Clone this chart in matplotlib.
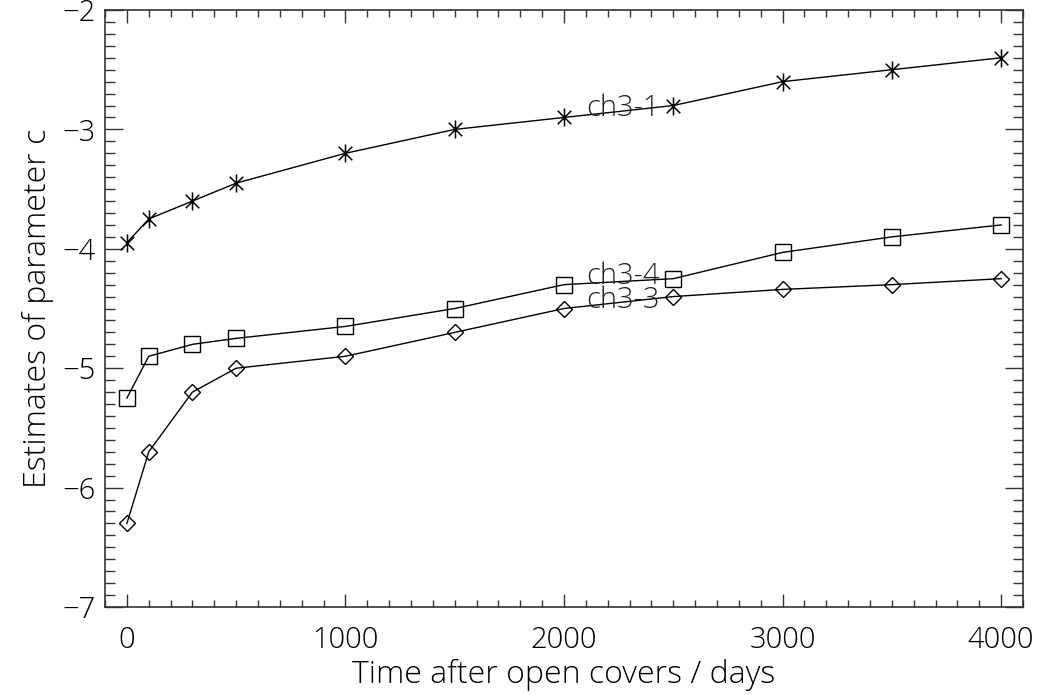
import numpy as np
import matplotlib
matplotlib.use('Agg')
import matplotlib.pyplot as plt
from matplotlib.path import Path
from matplotlib.ticker import MultipleLocator
from matplotlib import font_manager

# days after the covers were opened
days = [0, 100, 300, 500, 1000, 1500, 2000, 2500, 3000, 3500, 4000]

# estimates of parameter c per channel
ch3_1 = [-3.95, -3.75, -3.60, -3.45, -3.20, -3.00, -2.90, -2.80, -2.60, -2.50, -2.40]
ch3_4 = [-5.25, -4.90, -4.80, -4.75, -4.65, -4.50, -4.30, -4.25, -4.03, -3.90, -3.80]
ch3_3 = [-6.30, -5.70, -5.20, -5.00, -4.90, -4.70, -4.50, -4.40, -4.34, -4.30, -4.25]

label_names = ['ch3-1', 'ch3-4', 'ch3-3']
label_x = [2100, 2100, 2100]
label_y = [-2.82, -4.23, -4.43]


def pick_font():
    # thin font looks closer to the IDL vector font
    for fam in ['Open Sans', 'Lato', 'Roboto', 'Noto Sans']:
        try:
            fp = font_manager.FontProperties(family=fam, weight='light')
            path = font_manager.findfont(fp, fallback_to_default=False)
            if 'light' in path.lower():
                return fam, 'light'
        except Exception:
            pass
    return 'DejaVu Sans', 'normal'


fam, weight = pick_font()
plt.rcParams['font.family'] = [fam, 'DejaVu Sans']
plt.rcParams['font.weight'] = weight
plt.rcParams['axes.labelweight'] = weight
plt.rcParams['font.size'] = 21

# IDL style asterisk: vertical stroke plus two diagonals
a = 0.75
asterisk = Path([(0, -1), (0, 1), (-a, -a), (a, a), (-a, a), (a, -a)],
                [Path.MOVETO, Path.LINETO, Path.MOVETO, Path.LINETO, Path.MOVETO, Path.LINETO])

fig = plt.figure(figsize=(10.42, 6.95), dpi=100)
ax = fig.add_axes([0.1008, 0.1266, 0.8810, 0.8590])

ax.plot(days, ch3_1, color='black', lw=1.0, marker=asterisk, ms=13,
        mew=1.1, mfc='none', mec='black')
ax.plot(days, ch3_4, color='black', lw=1.0, marker='s', ms=12,
        mew=1.0, mfc='none', mec='black')
ax.plot(days, ch3_3, color='black', lw=1.0, marker='D', ms=8.5,
        mew=1.0, mfc='none', mec='black')

for name, x, y in zip(label_names, label_x, label_y):
    ax.text(x, y, name, ha='left', va='center', fontsize=21, color='#222222',
            fontweight=weight)

ax.set_xlim(-100, 4100)
ax.set_ylim(-7, -2)
ax.xaxis.set_major_locator(MultipleLocator(1000))
ax.xaxis.set_minor_locator(MultipleLocator(100))
ax.yaxis.set_major_locator(MultipleLocator(1))
ax.yaxis.set_minor_locator(MultipleLocator(0.1))

ax.tick_params(which='both', direction='in', top=True, right=True, color='#333333')
ax.tick_params(axis='x', which='major', length=9.5, width=1.0, pad=13)
ax.tick_params(axis='x', which='minor', length=4.8, width=1.0)
ax.tick_params(axis='y', which='major', length=13, width=1.0, pad=7)
ax.tick_params(axis='y', which='minor', length=7, width=1.0)
for sp in ax.spines.values():
    sp.set_linewidth(1.2)
    sp.set_color('#333333')

ax.set_xlabel('Time after open covers / days', fontsize=23, labelpad=3)
ax.set_ylabel('Estimates of parameter c', fontsize=23, labelpad=6)

fig.savefig('out.png', dpi=100)
